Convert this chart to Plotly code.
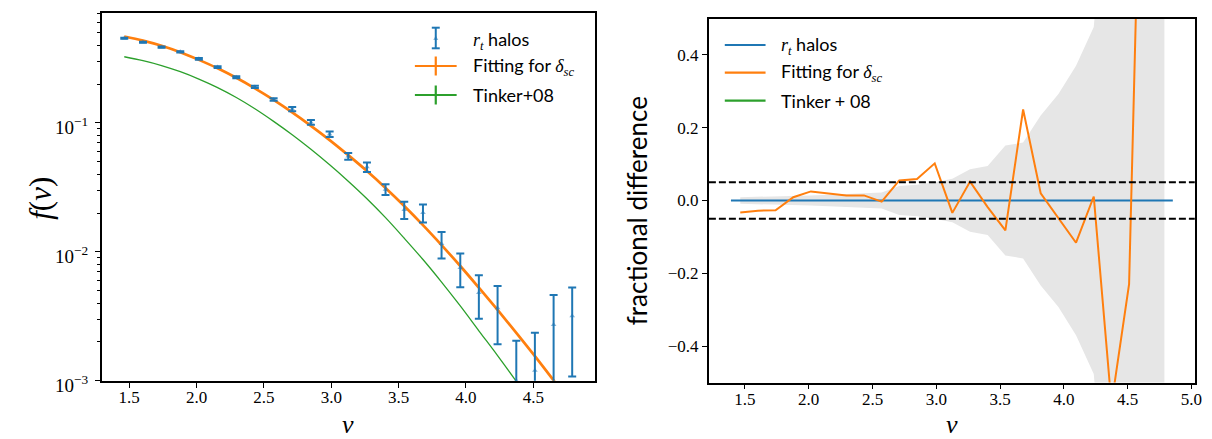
import math
import plotly.graph_objects as go

# ---------------- data ----------------
nu = [1.463, 1.602, 1.740, 1.879, 2.017, 2.156, 2.295, 2.433, 2.572, 2.710,
      2.849, 2.988, 3.126, 3.265, 3.403, 3.542, 3.681, 3.819, 3.958, 4.096,
      4.235, 4.374, 4.512, 4.651, 4.789]

f_halo = [0.453, 0.422, 0.387, 0.356, 0.314, 0.271, 0.226, 0.190, 0.152, 0.128,
          0.101, 0.0817, 0.0551, 0.0455, 0.0305, 0.0212, 0.0201, 0.01156, 0.00752, 0.00481,
          0.00367, 0.00100, 0.00120, 0.00272, 0.00318]

f_err = [0.0041, 0.0042, 0.0043, 0.0043, 0.0044, 0.0043, 0.0041, 0.0038, 0.0033, 0.0051,
         0.0044, 0.0041, 0.0033, 0.0039, 0.0029, 0.0032, 0.0032, 0.0027, 0.0022, 0.00178,
         0.00175, 0.00104, 0.00116, 0.0019, 0.0021]

f_fit = [0.468, 0.4345, 0.3963, 0.3532, 0.3083, 0.2655, 0.2239, 0.1854, 0.1507, 0.1205,
         0.0948, 0.0736, 0.0562, 0.0423, 0.0313, 0.02265, 0.0161, 0.01127, 0.00776, 0.00527,
         0.00354, 0.00235, 0.00155, 0.001005, 0.000649]

f_tinker = [0.326, 0.304, 0.2786, 0.2495, 0.2188, 0.1879, 0.1574, 0.1288, 0.1028, 0.0809,
            0.0624, 0.0473, 0.0353, 0.0258, 0.0184, 0.01274, 0.00871, 0.00582, 0.00380, 0.00244,
            0.001567, 0.000989, 0.000617, 0.00038, 0.000229]

frac_fit = [-0.033, -0.028, -0.027, 0.009, 0.025, 0.020, 0.014, 0.014, -0.003, 0.055,
            0.059, 0.102, -0.034, 0.052, -0.018, -0.082, 0.250, 0.020, -0.048, -0.116,
            0.011, -0.56, -0.23, 1.7, 4.2]

zero_nu = [1.39, 4.855]
zero_val = [0.0, 0.0]
tolerance = [0.05, -0.05]

x_ticks_left = [1.5, 2.0, 2.5, 3.0, 3.5, 4.0, 4.5]
x_ticks_right = [1.5, 2.0, 2.5, 3.0, 3.5, 4.0, 4.5, 5.0]
y_ticks_left = [1e-3, 1e-2, 1e-1]
y_ticktext_left = ["10<sup>\u22123</sup>", "10<sup>\u22122</sup>", "10<sup>\u22121</sup>"]
y_ticks_right = [-0.4, -0.2, 0.0, 0.2, 0.4]

frac_err = [e / v for e, v in zip(f_err, f_halo)]
band_hi = frac_err
band_lo = [-e for e in frac_err]

BLUE = "#1f77b4"
ORANGE = "#ff7f0e"
GREEN = "#2ca02c"
W, H = 1212, 439
SERIF = "Liberation Serif"
SANS = "Lato"


def PX(x):
    return x / W


def PY(y):
    return 1 - y / H


fig = go.Figure()

# ---------------- left panel ----------------
fig.add_trace(go.Scatter(x=nu, y=f_tinker, mode="lines", line=dict(color=GREEN, width=1.3, shape="spline"),
                         xaxis="x", yaxis="y", showlegend=False))
fig.add_trace(go.Scatter(x=nu, y=f_fit, mode="lines", line=dict(color=ORANGE, width=2.7, shape="spline"),
                         xaxis="x", yaxis="y", showlegend=False))
fig.add_trace(go.Scatter(x=nu, y=f_halo, mode="markers",
                         marker=dict(symbol="triangle-up", size=5, color="rgba(31,119,180,0.55)"),
                         error_y=dict(type="data", array=f_err, visible=True, color=BLUE, thickness=2, width=4),
                         xaxis="x", yaxis="y", showlegend=False))

# ---------------- right panel ----------------
fig.add_trace(go.Scatter(x=nu, y=band_lo, mode="lines", line=dict(width=0, color="#e6e6e6"),
                         xaxis="x2", yaxis="y2", showlegend=False))
fig.add_trace(go.Scatter(x=nu, y=band_hi, mode="lines", line=dict(width=0, color="#e6e6e6"),
                         fill="tonexty", fillcolor="#e6e6e6", xaxis="x2", yaxis="y2", showlegend=False))
fig.add_trace(go.Scatter(x=zero_nu, y=zero_val, mode="lines", line=dict(color=BLUE, width=2.2),
                         xaxis="x2", yaxis="y2", showlegend=False))
fig.add_trace(go.Scatter(x=nu, y=frac_fit, mode="lines", line=dict(color=ORANGE, width=2),
                         xaxis="x2", yaxis="y2", showlegend=False))

shapes = []
for t in tolerance:
    shapes.append(dict(type="line", xref="x2 domain", yref="y2", x0=0, x1=1, y0=t, y1=t,
                       line=dict(color="black", width=2, dash="7px,3px")))

# ---------------- legends (drawn manually) ----------------
lx = 438.3
shapes += [
    dict(type="line", xref="paper", yref="paper", x0=PX(lx), x1=PX(lx), y0=PY(27.7), y1=PY(48.3),
         line=dict(color=BLUE, width=2)),
    dict(type="line", xref="paper", yref="paper", x0=PX(lx - 4), x1=PX(lx + 4), y0=PY(27.7), y1=PY(27.7),
         line=dict(color=BLUE, width=2)),
    dict(type="line", xref="paper", yref="paper", x0=PX(lx - 4), x1=PX(lx + 4), y0=PY(48.3), y1=PY(48.3),
         line=dict(color=BLUE, width=2)),
    dict(type="path", xref="paper", yref="paper",
         path="M {} {} L {} {} L {} {} Z".format(PX(lx - 2.5), PY(40), PX(lx + 2.5), PY(40), PX(lx), PY(35.5)),
         fillcolor="rgba(31,119,180,0.55)", line=dict(width=0)),
]
for col, yc in [(ORANGE, 66), (GREEN, 95)]:
    shapes.append(dict(type="line", xref="paper", yref="paper", x0=PX(417.3), x1=PX(459.3), y0=PY(yc), y1=PY(yc),
                       line=dict(color=col, width=2.2)))
    shapes.append(dict(type="line", xref="paper", yref="paper", x0=PX(lx), x1=PX(lx), y0=PY(yc - 9.5), y1=PY(yc + 9.5),
                       line=dict(color=col, width=2.2)))
for col, yc in [(BLUE, 45), (ORANGE, 72.7), (GREEN, 100.7)]:
    shapes.append(dict(type="line", xref="paper", yref="paper", x0=PX(729), x1=PX(770), y0=PY(yc), y1=PY(yc),
                       line=dict(color=col, width=2.2)))

rt = "<span style=\"font-family:'Liberation Serif'\"><i>r</i><sub><i>t</i></sub></span> halos"
dsc = "Fitting for <span style=\"font-family:'Liberation Serif'\"><i>δ</i><sub><i>sc</i></sub></span>"

annotations = []
def txt(x, y, s, size=18, family=SANS, angle=0, xanchor="left"):
    annotations.append(dict(x=PX(x), y=PY(y), xref="paper", yref="paper", text=s, showarrow=False,
                            xanchor=xanchor, yanchor="middle", textangle=angle,
                            font=dict(family=family, size=size, color="black")))

txt(474, 40, rt)
txt(474, 67, dsc)
txt(474, 95, "Tinker+08")
txt(784, 45, rt)
txt(784, 72.7, dsc)
txt(784, 100.7, "Tinker + 08")

txt(350.3, 424, "<i>ν</i>", size=26, family=SERIF, xanchor="center")
txt(957.4, 424, "<i>ν</i>", size=26, family=SERIF, xanchor="center")
txt(40, 198, "<i>f</i>(<i>ν</i>)", size=31, family=SERIF, angle=-90, xanchor="center")
txt(641, 211, "fractional difference", size=26, family=SANS, angle=-90, xanchor="center")

# left y tick labels, placed on the log axis through its own scale (log axes take log10 positions)
for v, s in zip(y_ticks_left, y_ticktext_left):
    annotations.append(dict(x=PX(91), y=math.log10(v), xref="paper", yref="y", text=s, showarrow=False,
                            xanchor="right", yanchor="middle", yshift=-3,
                            font=dict(family=SERIF, size=19, color="black")))

tickfont = dict(family=SERIF, size=17, color="black")
axis_common = dict(showline=True, linewidth=1.8, linecolor="black", mirror=True, ticks="outside",
                   ticklen=5, tickwidth=1.3, tickcolor="black", showgrid=False, zeroline=False,
                   tickfont=tickfont)

minor_vals = [m * 10 ** k for k in (-3, -2, -1) for m in range(2, 10) if m * 10 ** k < 0.72]

fig.update_layout(
    width=W, height=H, margin=dict(l=0, r=0, t=0, b=0), autosize=False,
    paper_bgcolor="white", plot_bgcolor="white", showlegend=False,
    xaxis=dict(domain=[PX(102.5), PX(598)], range=[1.297, 4.955], tickvals=x_ticks_left, tickformat=".1f",
               anchor="y", ticklabelstandoff=-5, **axis_common),
    yaxis=dict(domain=[PY(380.7), PY(12.7)], type="log", range=[-3, -0.145],
               tickvals=y_ticks_left, showticklabels=False, anchor="x",
               minor=dict(tickvals=minor_vals, ticks="outside", ticklen=3, tickwidth=1, tickcolor="black",
                          showgrid=False),
               **axis_common),
    xaxis2=dict(domain=[PX(713), PX(1201.7)], range=[1.217, 5.027], tickvals=x_ticks_right, tickformat=".1f",
                anchor="y2", ticklabelstandoff=-5, **axis_common),
    yaxis2=dict(domain=[PY(382.5), PY(18.5)], range=[-0.5, 0.5], tickvals=y_ticks_right,
                tickformat=".1f", anchor="x2", **axis_common),
    shapes=shapes,
    annotations=annotations,
)

fig.write_html("out.html")
